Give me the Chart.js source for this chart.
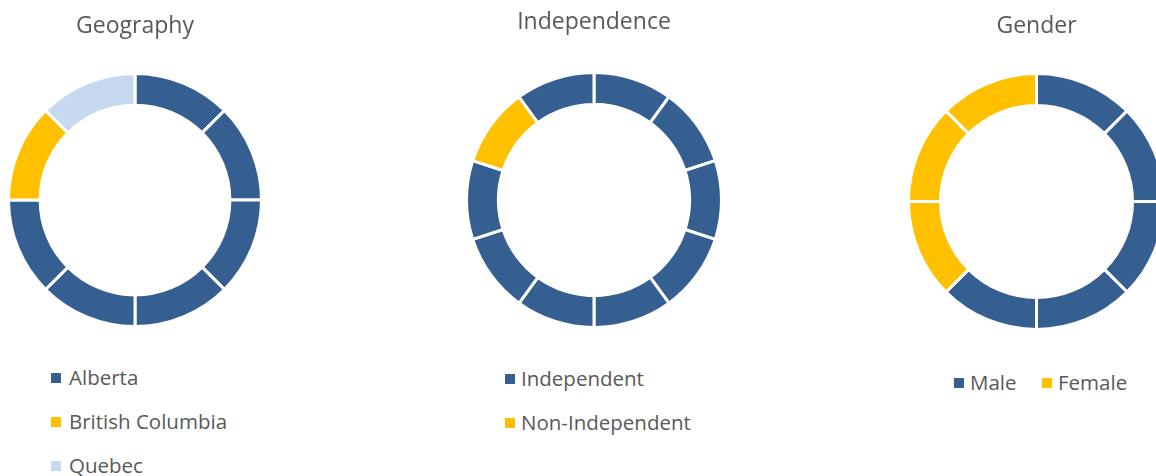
<!DOCTYPE html>
<html>
<head>
<meta charset="utf-8">
<script src="https://cdn.jsdelivr.net/npm/chart.js@4/dist/chart.umd.min.js"></script>
<style>
  html, body { margin: 0; padding: 0; background: #fff; width: 1156px; height: 476px; overflow: hidden; position: relative; }
  canvas { position: absolute; top: 0; }
  .sq { position: absolute; width: 10px; height: 10px; }
  .lbl { position: absolute; font-family: 'Open Sans'; font-size: 20.5px; line-height: 20px; color: #595959; white-space: nowrap; }
</style>
</head>
<body>
<canvas id="geo"></canvas>
<canvas id="ind"></canvas>
<canvas id="gen"></canvas>
<script>
// each ring slice is one record, so the labels repeat
const geoSegments = ['Alberta', 'Alberta', 'Alberta', 'Alberta', 'Alberta', 'Alberta', 'British Columbia', 'Quebec'];
const geoValues = [1, 1, 1, 1, 1, 1, 1, 1];
const geoCategories = ['Alberta', 'British Columbia', 'Quebec'];

const indSegments = ['Independent', 'Independent', 'Independent', 'Independent', 'Independent',
  'Independent', 'Independent', 'Independent', 'Non-Independent', 'Independent'];
const indValues = [1, 1, 1, 1, 1, 1, 1, 1, 1, 1];
const indCategories = ['Independent', 'Non-Independent'];

const genSegments = ['Male', 'Male', 'Male', 'Male', 'Male', 'Female', 'Female', 'Female'];
const genValues = [1, 1, 1, 1, 1, 1, 1, 1];
const genCategories = ['Male', 'Female'];

const colors = {
  'Alberta': '#365F91',
  'British Columbia': '#FFC000',
  'Quebec': '#C6D9F0',
  'Independent': '#365F91',
  'Non-Independent': '#FFC000',
  'Male': '#365F91',
  'Female': '#FFC000'
};

const BORDER = 3;
const TITLE_SIZE = 23;

function makeDonut(id, title, segments, values, cx, cy, r, titleMid) {
  const canvas = document.getElementById(id);
  const size = 2 * (r + BORDER);
  const areaTop = cy - size / 2;
  const lineH = TITLE_SIZE * 1.2;
  const padTop = titleMid - lineH / 2;
  const padBottom = areaTop - padTop - lineH;
  canvas.width = size;
  canvas.height = areaTop + size;
  canvas.style.left = (cx - size / 2) + 'px';

  return new Chart(canvas.getContext('2d'), {
    type: 'doughnut',
    data: {
      labels: segments,
      datasets: [{
        data: values,
        backgroundColor: segments.map(s => colors[s]),
        borderColor: '#ffffff',
        borderWidth: BORDER
      }]
    },
    options: {
      responsive: false,
      animation: false,
      devicePixelRatio: 1,
      cutout: '75%',
      layout: { padding: 0 },
      events: [],
      plugins: {
        legend: { display: false },
        tooltip: { enabled: false },
        title: {
          display: true,
          text: title,
          color: '#595959',
          font: { family: 'Open Sans', size: TITLE_SIZE, weight: 'normal' },
          padding: { top: padTop, bottom: padBottom }
        }
      }
    }
  });
}

makeDonut('geo', 'Geography', geoSegments, geoValues, 134.5, 200, 125, 26);
makeDonut('ind', 'Independence', indSegments, indValues, 594, 200, 126, 22.5);
makeDonut('gen', 'Gender', genSegments, genValues, 1036, 201.5, 126.5, 26.5);

// legends: x of square, x of text, baseline
function legendItem(label, sqX, textX, baseline) {
  const sq = document.createElement('div');
  sq.className = 'sq';
  sq.style.left = sqX + 'px';
  sq.style.top = (baseline - 12) + 'px';
  sq.style.background = colors[label];
  document.body.appendChild(sq);
  const t = document.createElement('div');
  t.className = 'lbl';
  t.textContent = label;
  t.style.left = textX + 'px';
  t.style.top = (baseline - 18) + 'px';
  document.body.appendChild(t);
}

geoCategories.forEach((c, i) => legendItem(c, 51, 69, 385 + i * 44));
indCategories.forEach((c, i) => legendItem(c, 505, 521, 386 + i * 44));
legendItem(genCategories[0], 954, 970, 390);
legendItem(genCategories[1], 1042, 1058, 390);
</script>
</body>
</html>
